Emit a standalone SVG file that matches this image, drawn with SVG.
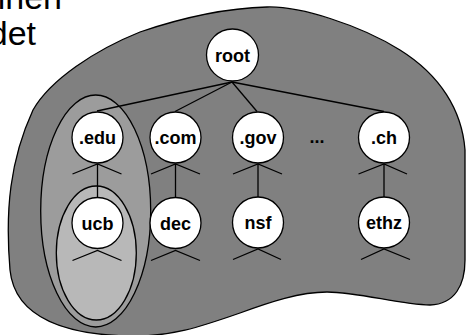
<svg xmlns="http://www.w3.org/2000/svg" width="466" height="335" viewBox="0 0 466 335">
<style>
.ln{stroke:#000;stroke-width:1.3;fill:none}
.nd{fill:#fff;stroke:#000;stroke-width:1.3}
.lb{font-family:"Liberation Sans",Arial,sans-serif;font-weight:bold;font-size:18px;text-anchor:middle;fill:#000}
.bg{font-family:"Liberation Sans",Arial,sans-serif;font-size:34px;fill:#000}
</style>
<rect width="466" height="335" fill="#fff"/>
<text class="bg" x="62" y="9" text-anchor="end">inen</text>
<text class="bg" x="36" y="45" text-anchor="end">det</text>
<g id="domain">
<path d="M140,32 C190,15 230,8 267,7 C300,6 360,25 400,50 C440,75 462,110 465,150 L465,260 C465,285 455,304 430,305 C400,305 360,292 327,292 C300,292 270,302 240,313 C200,327 170,337 130,336 C70,335 15,320 10,270 C5,210 10,160 33,110 C50,80 95,50 140,32 Z" fill="#808080" stroke="#000" stroke-width="1.3"/>
</g>
<g id="zone-edu">
<ellipse cx="95.7" cy="211" rx="55" ry="116" fill="#9c9c9c" stroke="#000" stroke-width="1.3"/>
</g>
<g id="zone-ucb">
<ellipse cx="96.3" cy="253" rx="40" ry="67" fill="#b8b8b8" stroke="#000" stroke-width="1.3"/>
</g>
<g id="connectors" class="ln">
<line x1="232" y1="82" x2="97" y2="111"/>
<line x1="232" y1="82" x2="175" y2="111.5"/>
<line x1="232" y1="82" x2="257" y2="111.5"/>
<line x1="232" y1="82" x2="384" y2="111.5"/>
<line x1="97.5" y1="164" x2="97.5" y2="197"/>
<line x1="175.5" y1="164" x2="175.5" y2="197"/>
<line x1="258" y1="164" x2="258" y2="197"/>
<line x1="384" y1="164" x2="384" y2="197"/>
<polyline points="72.5,174 97.5,164 121.5,174"/>
<polyline points="151,174 175.5,164 200,174"/>
<polyline points="233,174 258,164 282,174"/>
<polyline points="358.5,174 384,164 407,174"/>
<polyline points="72.5,260.5 97.5,250.5 121.5,260.5"/>
<polyline points="151,260.5 175.5,250.5 200,260.5"/>
<polyline points="233,259.5 258,249 281,259.5"/>
<polyline points="361,259.5 384,249 410,259.5"/>
</g>
<g id="root"><circle class="nd" cx="232.5" cy="55" r="26"/><text class="lb" x="232.5" y="62">root</text></g>
<g id="edu"><circle class="nd" cx="97.5" cy="137.5" r="25.5"/><text class="lb" x="97.5" y="144">.edu</text></g>
<g id="com"><circle class="nd" cx="175.5" cy="137.5" r="25.5"/><text class="lb" x="175.5" y="144">.com</text></g>
<g id="gov"><circle class="nd" cx="258" cy="137.5" r="25.5"/><text class="lb" x="258" y="144">.gov</text></g>
<g id="dots"><text class="lb" x="317" y="143">...</text></g>
<g id="ch"><circle class="nd" cx="384" cy="137.5" r="25.5"/><text class="lb" x="384" y="144">.ch</text></g>
<g id="ucb"><circle class="nd" cx="97.5" cy="223" r="25.5"/><text class="lb" x="97.5" y="229.5">ucb</text></g>
<g id="dec"><circle class="nd" cx="175.5" cy="223" r="25.5"/><text class="lb" x="175.5" y="229.5">dec</text></g>
<g id="nsf"><circle class="nd" cx="258" cy="222.5" r="25.5"/><text class="lb" x="258" y="229">nsf</text></g>
<g id="ethz"><circle class="nd" cx="384" cy="222.5" r="25.5"/><text class="lb" x="384" y="229">ethz</text></g>
</svg>
